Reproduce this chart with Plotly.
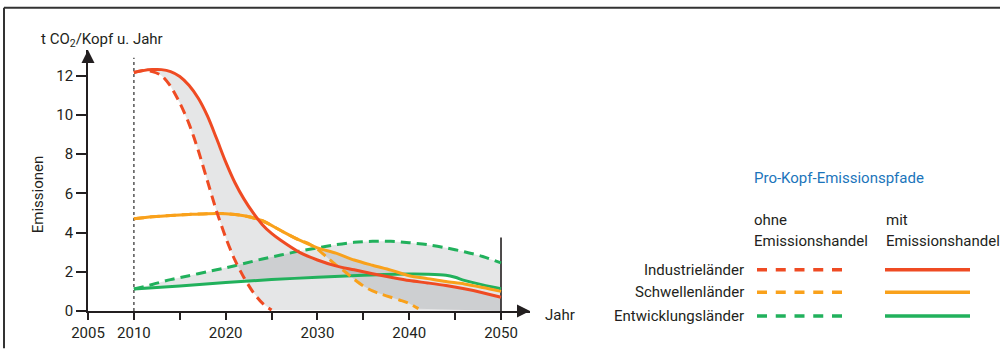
import plotly.graph_objects as go

# ---------------- data ----------------
ind_mit_x = [2010, 2011, 2012, 2013, 2014, 2015, 2016, 2017, 2018, 2019, 2020, 2021, 2022, 2023, 2024,
             2025, 2026, 2028, 2030, 2032, 2034, 2036, 2038, 2040, 2042, 2044, 2046, 2048, 2050]
ind_mit_y = [12.15, 12.25, 12.3, 12.3, 12.2, 11.95, 11.5, 10.85, 9.95, 8.8, 7.6, 6.55, 5.7, 5.0, 4.4,
             3.95, 3.6, 3.0, 2.6, 2.3, 2.1, 1.9, 1.72, 1.55, 1.43, 1.3, 1.13, 0.93, 0.7]

ind_ohne_x = [2010, 2011, 2012, 2013, 2014, 2015, 2016, 2017, 2018, 2019, 2020, 2021, 2022, 2023, 2024, 2025]
ind_ohne_y = [12.15, 12.25, 12.2, 12.0, 11.45, 10.6, 9.55, 8.2, 6.65, 5.1, 3.75, 2.6, 1.7, 0.95, 0.4, 0.05]

sch_mit_x = [2010, 2012, 2014, 2016, 2018, 2020, 2022, 2024, 2026, 2028, 2030, 2032, 2034, 2036, 2038,
             2040, 2042, 2044, 2046, 2048, 2050]
sch_mit_y = [4.7, 4.8, 4.87, 4.92, 4.96, 4.96, 4.85, 4.6, 4.1, 3.62, 3.22, 2.95, 2.6, 2.33, 2.08,
             1.8, 1.65, 1.5, 1.38, 1.2, 1.0]

sch_ohne_x = [2010, 2012, 2014, 2016, 2018, 2020, 2022, 2024, 2026, 2028, 2029, 2030, 2031, 2032, 2033,
              2034, 2035, 2036, 2037, 2038, 2039, 2040, 2041]
sch_ohne_y = [4.7, 4.8, 4.87, 4.92, 4.96, 4.96, 4.85, 4.6, 4.1, 3.62, 3.45, 3.15, 2.75, 2.35, 2.0,
              1.62, 1.28, 1.02, 0.85, 0.7, 0.55, 0.38, 0.12]

ent_mit_x = [2010, 2015, 2020, 2025, 2030, 2035, 2040, 2042, 2044, 2045, 2046, 2048, 2050]
ent_mit_y = [1.12, 1.27, 1.45, 1.6, 1.72, 1.82, 1.88, 1.87, 1.82, 1.72, 1.56, 1.33, 1.13]

ent_ohne_x = [2010, 2012, 2014, 2016, 2018, 2020, 2022, 2024, 2026, 2028, 2030, 2032, 2034, 2036, 2038,
              2040, 2042, 2044, 2046, 2048, 2050]
ent_ohne_y = [1.12, 1.35, 1.6, 1.8, 2.0, 2.2, 2.42, 2.65, 2.85, 3.05, 3.22, 3.38, 3.5, 3.55, 3.55,
              3.48, 3.38, 3.22, 3.02, 2.78, 2.45]

y_ticks = [0, 2, 4, 6, 8, 10, 12]
x_ticks = [2005, 2010, 2020, 2030, 2040, 2050]
x_minor_ticks = [2015, 2025, 2035, 2045]

legend_rows = ["Industrieländer", "Schwellenländer", "Entwicklungsländer"]

# ---------------- style ----------------
RED = "#ef4b23"
ORANGE = "#f9a11b"
GREEN = "#21b15c"
INK = "#231f20"
FILL = "rgba(0,5,15,0.10)"
FONT = "Roboto, 'Liberation Sans Narrow', sans-serif"
FS = 15

W, H = 1000, 354
ML, MR, MT, MB = 88, 470, 50, 38
PXY = 9.178   # px per year
PXV = 20.0    # px per unit
x_start = 2005
x_end = x_start + (W - ML - MR) / PXY
y_end = (H - MT - MB) / PXV
start_year = 2010
end_year = 2050


def px(xp):
    return (xp - ML) / (W - ML - MR)


def py(yp):
    return (H - MB - yp) / (H - MT - MB)


fig = go.Figure()

# shaded bands
fig.add_trace(go.Scatter(x=ind_mit_x + [end_year] + ind_ohne_x[::-1],
                         y=ind_mit_y + [0] + ind_ohne_y[::-1],
                         fill="toself", fillcolor=FILL, mode="none", hoverinfo="skip"))
i0 = sch_ohne_x.index(2028)
j0 = sch_mit_x.index(2028)
fig.add_trace(go.Scatter(x=sch_mit_x[j0:] + [end_year] + sch_ohne_x[i0:][::-1],
                         y=sch_mit_y[j0:] + [0] + sch_ohne_y[i0:][::-1],
                         fill="toself", fillcolor=FILL, mode="none", hoverinfo="skip"))
fig.add_trace(go.Scatter(x=ent_ohne_x + ent_mit_x[::-1],
                         y=ent_ohne_y + ent_mit_y[::-1],
                         fill="toself", fillcolor=FILL, mode="none", hoverinfo="skip"))

# reference verticals
fig.add_trace(go.Scatter(x=[start_year, start_year], y=[0, 12.9], mode="lines",
                         line=dict(color="#555555", width=1.5, dash="dot"), hoverinfo="skip"))
fig.add_trace(go.Scatter(x=[end_year, end_year], y=[0, 3.75], mode="lines",
                         line=dict(color=INK, width=1.6), hoverinfo="skip"))

DASH = "10px,6px"
series = [
    (ent_ohne_x, ent_ohne_y, GREEN, DASH),
    (ent_mit_x, ent_mit_y, GREEN, "solid"),
    (sch_ohne_x, sch_ohne_y, ORANGE, DASH),
    (sch_mit_x, sch_mit_y, ORANGE, "solid"),
    (ind_ohne_x, ind_ohne_y, RED, DASH),
    (ind_mit_x, ind_mit_y, RED, "solid"),
]
for xs, ys, c, d in series:
    fig.add_trace(go.Scatter(x=xs, y=ys, mode="lines",
                             line=dict(color=c, width=3, dash=d, shape="spline", smoothing=0.8),
                             hoverinfo="skip", cliponaxis=False))

# axis arrow heads
fig.add_trace(go.Scatter(x=[x_end], y=[0], mode="markers", cliponaxis=False, hoverinfo="skip",
                         marker=dict(symbol="arrow-right", size=13, color=INK, line=dict(width=0))))
fig.add_trace(go.Scatter(x=[x_start], y=[y_end], mode="markers", cliponaxis=False, hoverinfo="skip",
                         marker=dict(symbol="arrow-up", size=13, color=INK, line=dict(width=0))))

tf = dict(family=FONT, size=FS, color=INK)


def label(text, xp, yp, anchor="left", color=INK, size=FS, angle=0):
    fig.add_annotation(x=px(xp), y=py(yp), xref="paper", yref="paper", text=text, showarrow=False,
                       xanchor=anchor, yanchor="middle", textangle=angle,
                       font=dict(family=FONT, size=size, color=color))


label("t CO<sub>2</sub>/Kopf u. Jahr", 39, 40)
label("Emissionen", 38, 197, anchor="center", angle=-90)
label("Jahr", 543, 320)
label("Pro-Kopf-Emissionspfade", 752, 180, color="#1b75bb")
label("ohne", 752, 223)
label("Emissionshandel", 752, 245)
label("mit", 884, 223)
label("Emissionshandel", 884, 245)

row_y = [274, 297, 321]
for name, yy, c in zip(legend_rows, row_y, [RED, ORANGE, GREEN]):
    label(name, 746, yy, anchor="right")
    fig.add_shape(type="line", xref="paper", yref="paper", x0=px(757), x1=px(842), y0=py(yy), y1=py(yy),
                  line=dict(color=c, width=3.5, dash="10px,8.75px"))
    fig.add_shape(type="line", xref="paper", yref="paper", x0=px(885), x1=px(970), y0=py(yy), y1=py(yy),
                  line=dict(color=c, width=3.5))

# frame (top and left)
fig.add_shape(type="line", xref="paper", yref="paper", x0=px(4), x1=px(1000), y0=py(7), y1=py(7),
              line=dict(color="#333333", width=2))
fig.add_shape(type="line", xref="paper", yref="paper", x0=px(4), x1=px(4), y0=py(7), y1=py(354),
              line=dict(color="#333333", width=2))

fig.update_layout(
    width=W, height=H, margin=dict(l=ML, r=MR, t=MT, b=MB),
    paper_bgcolor="white", plot_bgcolor="white", showlegend=False,
    xaxis=dict(range=[x_start, x_end], tickvals=x_ticks, ticks="outside",
               ticklen=7, tickwidth=1.6, tickcolor=INK, showgrid=False, zeroline=False,
               showline=True, linecolor=INK, linewidth=1.8,
               minor=dict(tickvals=x_minor_ticks, ticks="outside", ticklen=7, tickwidth=1.6,
                          tickcolor=INK, showgrid=False),
               tickfont=tf, fixedrange=True),
    yaxis=dict(range=[0, y_end], tickvals=y_ticks, ticks="outside", ticklen=10, tickwidth=1.6,
               tickcolor=INK, showgrid=False, zeroline=False, showline=True, linecolor=INK, linewidth=1.8,
               tickfont=tf, fixedrange=True),
)

POST = ("var h=document.documentElement, b=document.body;"
        "h.style.margin='0';h.style.padding='0';h.style.overflow='hidden';h.style.height='354px';"
        "b.style.margin='0';b.style.padding='0';b.style.overflow='hidden';b.style.height='354px';")
fig.write_html("out.html", config={"displayModeBar": False}, post_script=POST)
